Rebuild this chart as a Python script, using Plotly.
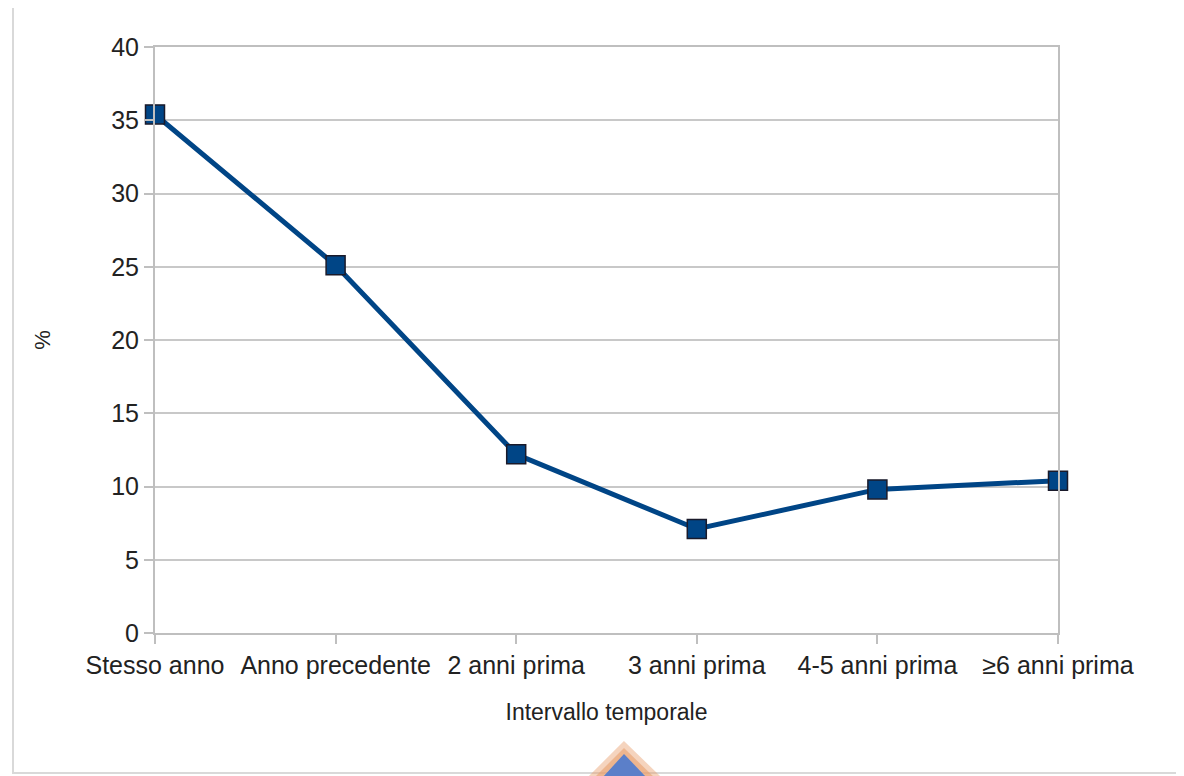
import plotly.graph_objects as go

categories = ["Stesso anno", "Anno precedente", "2 anni prima", "3 anni prima", "4-5 anni prima", "≥6 anni prima"]
values = [35.4, 25.1, 12.2, 7.1, 9.8, 10.4]
y_ticks = [0, 5, 10, 15, 20, 25, 30, 35, 40]

OFF = 8  # page body margin
W, H = 1184 - OFF, 776 - OFF
L, R, T, B = 155 - OFF, 1058 - OFF, 47 - OFF, 633 - OFF

def px(x):
    return (x - OFF - L) / (R - L)

def py(y):
    return (B - (y - OFF)) / (B - T)

fig = go.Figure()
fig.add_trace(go.Scatter(
    x=list(range(len(categories))), y=values, mode="lines+markers",
    line=dict(color="#004586", width=5),
    marker=dict(symbol="square", size=19, color="#004586", line=dict(color="#1a1a2a", width=1.5)),
    cliponaxis=False, showlegend=False,
))

shapes = [
    dict(type="rect", xref="paper", yref="paper", x0=px(13), x1=px(1200), y0=py(7), y1=py(773),
         line=dict(color="#d9d9d9", width=2), fillcolor="rgba(0,0,0,0)", layer="below"),
    dict(type="path", xref="paper", yref="paper",
         path=f"M {px(592)},{py(780)} L {px(624)},{py(748)} L {px(657)},{py(780)} Z",
         fillcolor="rgba(232,160,110,0.6)", line=dict(color="rgba(232,160,110,0.45)", width=10)),
    dict(type="path", xref="paper", yref="paper",
         path=f"M {px(602)},{py(778)} L {px(624)},{py(754)} L {px(647)},{py(778)} Z",
         fillcolor="#5b7fc9", line=dict(color="#5b7fc9", width=0)),
]

fig.update_layout(
    width=W, height=H,
    margin=dict(l=L, r=W - R, t=T, b=H - B),
    paper_bgcolor="white", plot_bgcolor="white",
    font=dict(family="Liberation Sans, Arial, sans-serif", color="#222222"),
    shapes=shapes,
    xaxis=dict(
        range=[0, 5], tickmode="array", tickvals=list(range(len(categories))), ticktext=categories,
        tickangle=0, showgrid=False, zeroline=False,
        showline=True, linecolor="#bfbfbf", linewidth=2, mirror=True,
        ticks="outside", ticklen=9, tickcolor="#bfbfbf", tickwidth=2,
        tickfont=dict(size=25, color="#222222"),
        title=dict(text="Intervallo temporale", font=dict(size=23, color="#222222"), standoff=26),
    ),
    yaxis=dict(
        range=[0, 40], tickmode="array", tickvals=y_ticks,
        showgrid=True, gridcolor="#c8c8c8", gridwidth=2, zeroline=False,
        showline=True, linecolor="#bfbfbf", linewidth=2, mirror=True,
        ticks="outside", ticklen=9, tickcolor="#bfbfbf", tickwidth=2,
        tickfont=dict(size=25, color="#222222"),
        title=dict(text="%", font=dict(size=22, color="#222222"), standoff=54),
    ),
)

fig.write_html("out.html")
